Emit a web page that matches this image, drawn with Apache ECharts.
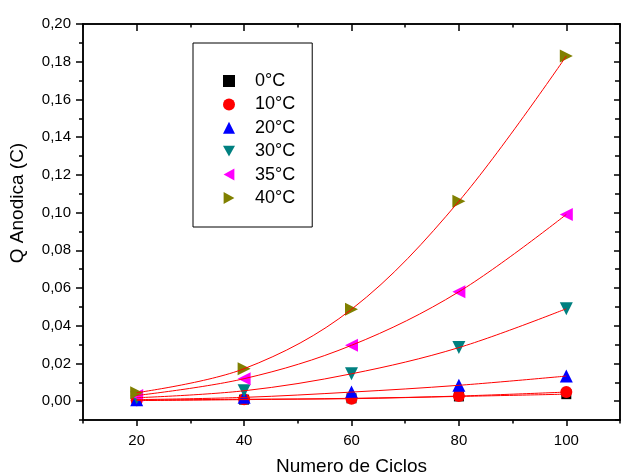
<!DOCTYPE html>
<html>
<head>
<meta charset="utf-8">
<script src="https://cdn.jsdelivr.net/npm/echarts@6/dist/echarts.min.js"></script>
<style>html,body{margin:0;padding:0;background:#fff;}#c{width:622px;height:476px;}</style>
</head>
<body>
<div id="c"></div>
<script>
var cycles = [20, 40, 60, 80, 100];
var seriesNames = ['0°C', '10°C', '20°C', '30°C', '35°C', '40°C'];
var q0 = [0.0003, 0.0008, 0.0015, 0.0025, 0.0037];
var q10 = [0.0005, 0.0010, 0.0013, 0.0027, 0.0048];
var q20 = [0.0008, 0.0020, 0.0048, 0.0084, 0.0133];
var q30 = [0.0018, 0.0055, 0.0145, 0.0284, 0.0490];
var q35 = [0.0030, 0.0119, 0.0296, 0.0580, 0.0990];
var q40 = [0.0045, 0.0172, 0.0487, 0.1060, 0.1830];
var xTicks = [20, 40, 60, 80, 100];
var yTicks = [0, 0.02, 0.04, 0.06, 0.08, 0.10, 0.12, 0.14, 0.16, 0.18, 0.20];

var allData = [q0, q10, q20, q30, q35, q40];
var colors = ['#000000', '#ff0000', '#0000ff', '#008080', '#ff00ff', '#808000'];
var symbols = ['rect', 'circle', 'triangle',
  'path://M0,0 L10,0 L5,9 Z',
  'path://M0,5 L9,0 L9,10 Z',
  'path://M0,0 L9,5 L0,10 Z'];
var sizes = [10, 12, 13, 13, 13, 13];

var xMinor = [10, 30, 50, 70, 90, 110];
var yMinor = [];
for (var i = 0; i < yTicks.length; i++) { yMinor.push(+(yTicks[i] - 0.01).toFixed(2)); }

var FONT = 'Liberation Sans, Arial, sans-serif';
var axisLine = { show: true, onZero: false, lineStyle: { color: '#000', width: 1.5 } };
function xAxisDef(pos, ticks, len, inside, labels) {
  return {
    type: 'value', position: pos, min: 10, max: 110, interval: 10,
    axisLine: axisLine,
    axisTick: { show: true, inside: inside, length: len, customValues: ticks, lineStyle: { color: '#000', width: 1.5 } },
    axisLabel: labels ? { show: true, customValues: ticks, margin: 13, fontSize: 15, color: '#000', fontFamily: FONT } : { show: false },
    splitLine: { show: false }
  };
}
function yAxisDef(pos, ticks, len, inside, labels) {
  return {
    type: 'value', position: pos, min: -0.01, max: 0.20, interval: 0.01,
    axisLine: axisLine,
    axisTick: { show: true, inside: inside, length: len, customValues: ticks, lineStyle: { color: '#000', width: 1.5 } },
    axisLabel: labels ? { show: true, customValues: ticks, margin: 12, fontSize: 15, color: '#000', fontFamily: FONT,
      formatter: function (v) { return v.toFixed(2).replace('.', ','); } } : { show: false },
    splitLine: { show: false }
  };
}

var series = [];
for (var s = 0; s < allData.length; s++) {
  var pts = [];
  for (var k = 0; k < cycles.length; k++) pts.push([cycles[k], allData[s][k]]);
  series.push({
    name: seriesNames[s] + ' fit', type: 'line', data: pts, smooth: 0.35, showSymbol: false, symbol: 'none',
    lineStyle: { color: '#ff0000', width: 1 }, silent: true, z: 3, xAxisIndex: 0, yAxisIndex: 0
  });
}
for (var s2 = 0; s2 < allData.length; s2++) {
  var pts2 = [];
  for (var k2 = 0; k2 < cycles.length; k2++) pts2.push([cycles[k2], allData[s2][k2]]);
  series.push({
    name: seriesNames[s2], type: 'scatter', data: pts2, symbol: symbols[s2], symbolSize: sizes[s2],
    itemStyle: { color: colors[s2], opacity: 1 }, z: 2, xAxisIndex: 0, yAxisIndex: 0
  });
}

var xAxes = [
  xAxisDef('bottom', xTicks, 6, false, true),
  xAxisDef('bottom', xMinor, 3.5, false, false),
  xAxisDef('top', xTicks, 7, true, false),
  xAxisDef('top', xMinor, 3.5, true, false)
];
xAxes[0].name = 'Numero de Ciclos';
xAxes[0].nameLocation = 'middle';
xAxes[0].nameGap = 37;
xAxes[0].nameTextStyle = { fontSize: 19, color: '#000', fontFamily: FONT };

var chart = echarts.init(document.getElementById('c'), null, { renderer: 'canvas' });
chart.setOption({
  animation: false,
  backgroundColor: '#fff',
  grid: { left: 83, right: 2, top: 24, bottom: 56, containLabel: false, outerBoundsMode: 'none' },
  xAxis: xAxes,
  yAxis: [
    yAxisDef('left', yTicks, 7, false, true),
    yAxisDef('left', yMinor, 4, false, false),
    yAxisDef('right', yTicks, 6, true, false),
    yAxisDef('right', yMinor, 5, true, false)
  ],
  legend: {
    data: seriesNames.map(function (n, i) { return { name: n, icon: symbols[i] }; }),
    orient: 'vertical', left: 193, top: 43,
    padding: [28, 17, 19, 30],
    itemWidth: 12, itemHeight: 12, itemGap: 3.4,
    borderColor: '#000', borderWidth: 1, backgroundColor: '#fff',
    selectedMode: false,
    textStyle: { fontSize: 18, color: '#000', lineHeight: 20, padding: [0, 0, 0, 15], fontFamily: FONT }
  },
  graphic: [{
    type: 'text', rotation: Math.PI / 2,
    x: 18, y: 203,
    style: { text: 'Q Anodica (C)', fontSize: 19, fill: '#000', fontFamily: FONT, align: 'center', verticalAlign: 'middle' }
  }],
  series: series
});
</script>
</body>
</html>
